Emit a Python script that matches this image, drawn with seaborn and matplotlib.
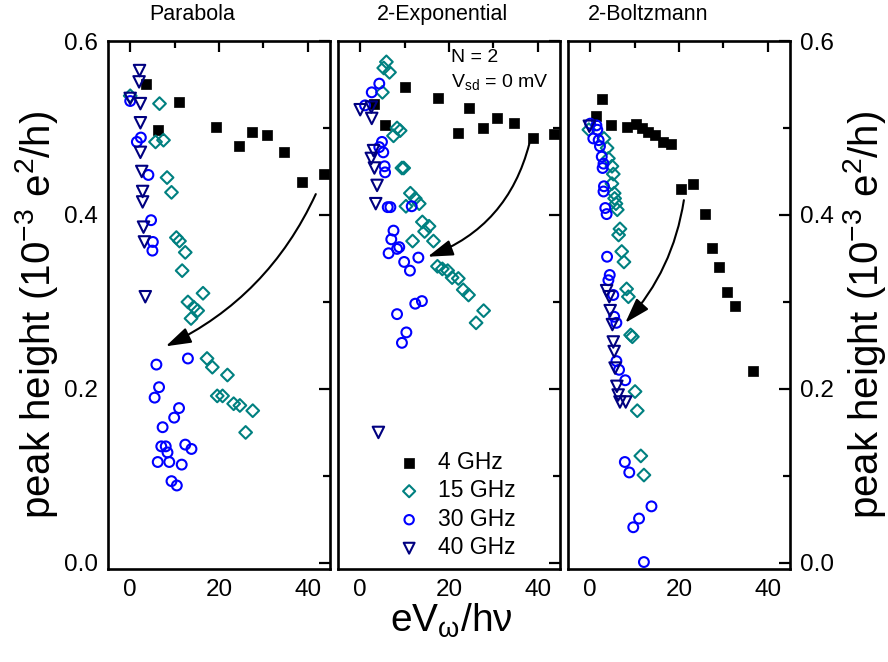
import numpy as np
import pandas as pd
import matplotlib
matplotlib.use("Agg")
import matplotlib.pyplot as plt
import seaborn as sns

# ---------------- data: peak height vs. eV_w/hv ----------------
freq_labels = ["4 GHz", "15 GHz", "30 GHz", "40 GHz"]
panel_titles = ["Parabola", "2-Exponential", "2-Boltzmann"]

# Parabola
para_4_x = [3.6, 6.2, 11.0, 19.4, 24.6, 27.5, 30.9, 34.6, 38.8, 43.6]
para_4_y = [0.551, 0.498, 0.530, 0.501, 0.479, 0.495, 0.492, 0.472, 0.438, 0.447]
para_15_x = [0.0, 6.6, 5.7, 7.5, 8.3, 9.3, 10.4, 11.1, 12.4, 11.7, 16.4, 13.0,
             14.3, 15.2, 13.7, 17.3, 18.5, 21.9, 19.6, 20.8, 23.3, 24.7, 27.6, 26.0]
para_15_y = [0.537, 0.528, 0.484, 0.486, 0.443, 0.426, 0.374, 0.370, 0.357, 0.336,
             0.310, 0.300, 0.294, 0.290, 0.281, 0.235, 0.225, 0.216, 0.192, 0.192,
             0.183, 0.181, 0.175, 0.150]
para_30_x = [0.0, 1.5, 2.4, 4.1, 4.7, 5.1, 5.0, 5.9, 13.0, 6.5, 5.5, 11.0, 9.9,
             7.3, 7.0, 8.0, 8.4, 12.4, 13.8, 6.2, 8.8, 11.6, 9.3, 10.5]
para_30_y = [0.531, 0.484, 0.489, 0.446, 0.394, 0.369, 0.359, 0.228, 0.235, 0.202,
             0.190, 0.178, 0.167, 0.156, 0.134, 0.134, 0.127, 0.136, 0.131, 0.116,
             0.116, 0.113, 0.094, 0.089]
para_40_x = [2.1, 2.0, 0.0, 2.3, 2.3, 2.3, 2.6, 2.8, 2.8, 3.0, 3.2, 3.4]
para_40_y = [0.566, 0.553, 0.534, 0.528, 0.506, 0.472, 0.450, 0.427, 0.415, 0.386,
             0.369, 0.306]

# 2-Exponential
expo_4_x = [3.2, 5.6, 10.0, 17.5, 22.0, 24.6, 27.6, 30.9, 34.6, 39.0, 43.7]
expo_4_y = [0.528, 0.504, 0.547, 0.534, 0.494, 0.523, 0.500, 0.512, 0.506, 0.489, 0.493]
expo_15_x = [5.9, 5.3, 6.6, 5.0, 8.3, 9.0, 7.5, 9.4, 9.8, 11.3, 12.4, 10.3, 13.3,
             14.0, 15.5, 14.5, 11.8, 16.5, 17.4, 18.5, 19.7, 20.7, 22.1, 23.2, 24.4,
             27.8, 26.1]
expo_15_y = [0.576, 0.569, 0.564, 0.541, 0.500, 0.497, 0.491, 0.454, 0.454, 0.425,
             0.419, 0.410, 0.413, 0.392, 0.387, 0.381, 0.370, 0.370, 0.341, 0.338,
             0.336, 0.328, 0.327, 0.314, 0.308, 0.290, 0.276]
expo_30_x = [4.3, 2.6, 1.1, 4.9, 4.3, 5.2, 5.5, 5.6, 6.2, 6.8, 11.6, 7.5, 7.0, 8.8,
             8.3, 6.4, 13.1, 9.9, 11.2, 12.4, 13.9, 8.3, 10.4, 9.4]
expo_30_y = [0.551, 0.541, 0.526, 0.484, 0.478, 0.472, 0.456, 0.449, 0.409, 0.409,
             0.410, 0.382, 0.372, 0.363, 0.361, 0.356, 0.351, 0.346, 0.336, 0.298,
             0.301, 0.286, 0.265, 0.253]
expo_40_x = [0.0, 2.5, 2.6, 3.0, 2.5, 3.2, 3.8, 3.5, 4.1]
expo_40_y = [0.521, 0.524, 0.511, 0.474, 0.465, 0.454, 0.434, 0.413, 0.150]

# 2-Boltzmann
boltz_4_x = [1.4, 2.6, 4.6, 8.2, 10.3, 11.6, 13.1, 14.5, 16.4, 18.3, 20.5, 23.1,
             25.8, 27.4, 28.9, 30.8, 32.6, 36.6]
boltz_4_y = [0.514, 0.533, 0.503, 0.501, 0.505, 0.500, 0.495, 0.492, 0.484, 0.482,
             0.430, 0.436, 0.401, 0.362, 0.340, 0.311, 0.295, 0.221]
boltz_15_x = [-0.3, 3.1, 3.8, 4.1, 4.9, 5.2, 4.9, 5.4, 5.5, 5.8, 6.1, 6.7, 6.4, 7.1,
              7.6, 8.2, 8.6, 9.1, 9.5, 10.1, 10.6, 11.4, 12.1]
boltz_15_y = [0.498, 0.488, 0.477, 0.465, 0.456, 0.447, 0.436, 0.425, 0.419, 0.413,
              0.406, 0.384, 0.377, 0.358, 0.346, 0.315, 0.306, 0.262, 0.260, 0.197,
              0.175, 0.123, 0.101]
boltz_30_x = [0.0, 1.4, 1.6, 0.7, 1.9, 2.2, 2.6, 3.0, 2.8, 3.1, 3.0, 3.4, 3.7, 3.8,
              4.4, 4.1, 5.2, 5.4, 5.9, 5.9, 6.5, 7.9, 7.8, 8.8, 13.8, 11.0, 9.7, 12.1]
boltz_30_y = [0.505, 0.503, 0.498, 0.488, 0.486, 0.479, 0.467, 0.459, 0.454, 0.433,
              0.427, 0.408, 0.401, 0.352, 0.331, 0.325, 0.308, 0.283, 0.276, 0.232,
              0.222, 0.210, 0.116, 0.104, 0.065, 0.051, 0.041, 0.001]
boltz_40_x = [-0.2, 3.7, 4.3, 4.5, 5.0, 5.2, 5.4, 5.6, 6.0, 6.3, 6.7, 8.0]
boltz_40_y = [0.502, 0.313, 0.306, 0.290, 0.274, 0.254, 0.243, 0.224, 0.203, 0.193,
              0.185, 0.185]

# trend arrows (start -> tip) in data units, and their curvature
arrow_start = [(41.8, 0.424), (38.1, 0.482), (21.1, 0.417)]
arrow_tip = [(8.0, 0.249), (15.2, 0.352), (7.9, 0.276)]
arrow_rad = [-0.18, -0.26, -0.15]

panels = [
    [(para_4_x, para_4_y), (para_15_x, para_15_y), (para_30_x, para_30_y), (para_40_x, para_40_y)],
    [(expo_4_x, expo_4_y), (expo_15_x, expo_15_y), (expo_30_x, expo_30_y), (expo_40_x, expo_40_y)],
    [(boltz_4_x, boltz_4_y), (boltz_15_x, boltz_15_y), (boltz_30_x, boltz_30_y), (boltz_40_x, boltz_40_y)],
]

# marker style for each frequency
series_style = {
    "4 GHz":  dict(marker="s", color="#000000", filled=True,  s=50),
    "15 GHz": dict(marker="D", color="#008080", filled=False, s=42),
    "30 GHz": dict(marker="o", color="#0000FF", filled=False, s=50),
    "40 GHz": dict(marker="v", color="#000080", filled=False, s=68),
}

# ---------------- styling ----------------
sns.set_style("white")
plt.rcParams["font.family"] = ["Liberation Sans", "DejaVu Sans"]
plt.rcParams["mathtext.fontset"] = "custom"
plt.rcParams["mathtext.rm"] = "Liberation Sans"
plt.rcParams["mathtext.it"] = "Liberation Sans:italic"
plt.rcParams["mathtext.bf"] = "Liberation Sans:bold"
for key in ["text.color", "axes.labelcolor", "xtick.color", "ytick.color",
            "axes.edgecolor"]:
    plt.rcParams[key] = "black"

fig = plt.figure(figsize=(8.88, 6.62), dpi=100)

W, H = 888.0, 662.0
left_px = [108, 338, 568]
panel_w = 222
top_px, bottom_px = 41, 569

title_pos = [0.378, 0.47, 0.363]

axes = []
for i in range(3):
    ax = fig.add_axes([left_px[i] / W, 1 - bottom_px / H,
                       panel_w / W, (bottom_px - top_px) / H])
    axes.append(ax)

    for label, (xs, ys) in zip(freq_labels, panels[i]):
        st = series_style[label]
        df = pd.DataFrame({"x": xs, "y": ys})
        if st["filled"]:
            sns.scatterplot(data=df, x="x", y="y", ax=ax, marker=st["marker"],
                            color=st["color"], edgecolor=st["color"],
                            s=st["s"], linewidth=0.5, label=label, zorder=3)
        else:
            sns.scatterplot(data=df, x="x", y="y", ax=ax, marker=st["marker"],
                            color=st["color"], facecolor="none",
                            edgecolor=st["color"], s=st["s"], linewidth=1.5,
                            label=label, zorder=3)

    ax.annotate("", xy=arrow_tip[i], xytext=arrow_start[i],
                arrowprops=dict(arrowstyle="-|>,head_length=1.1,head_width=0.35",
                                connectionstyle=f"arc3,rad={arrow_rad[i]}",
                                color="black", lw=1.5, shrinkA=0, shrinkB=0,
                                mutation_scale=14),
                zorder=4)

    ax.set_xlim(-5, 45)
    ax.set_ylim(-0.007, 0.6)
    ax.set_xticks([0, 20, 40])
    ax.set_xticks([10, 30], minor=True)
    ax.set_yticks([0.0, 0.2, 0.4, 0.6])
    ax.set_yticks([0.1, 0.3, 0.5], minor=True)
    ax.set_xlabel("")
    ax.set_ylabel("")
    for sp in ax.spines.values():
        sp.set_linewidth(1.9)
        sp.set_color("black")
    ax.tick_params(which="both", direction="in", top=True, right=True,
                   width=1.6, colors="black")
    ax.tick_params(which="major", length=8, labelsize=17.5, pad=7)
    ax.tick_params(which="minor", length=5)
    ax.tick_params(axis="y", labelleft=(i == 0), labelright=(i == 2))
    ax.set_yticklabels(["0.0", "0.2", "0.4", "0.6"])

    ax.text(title_pos[i], 1.05, panel_titles[i], transform=ax.transAxes,
            ha="center", va="center", fontsize=15.5)

    leg = ax.get_legend()
    if leg is not None:
        leg.remove()

# legend in middle panel
handles, labels = axes[1].get_legend_handles_labels()
axes[1].legend(handles, labels, loc="upper left", bbox_to_anchor=(0.274, 0.224),
               frameon=False, fontsize=16.5, handlelength=0.9, handletextpad=0.8,
               labelspacing=0.24, borderpad=0, borderaxespad=0, markerscale=0.95)

axes[1].text(0.51, 0.968, "N = 2", transform=axes[1].transAxes,
             ha="left", va="center", fontsize=14)
axes[1].text(0.51, 0.922, r"V$_{\mathrm{sd}}$ = 0 mV", transform=axes[1].transAxes,
             ha="left", va="center", fontsize=14)

ylab = r"peak height (10$^{-3}$ e$^{2}$/h)"
fig.text(37 / W, 1 - 315 / H, ylab, rotation=90, ha="center", va="center", fontsize=29)
fig.text(864 / W, 1 - 315 / H, ylab, rotation=90, ha="center", va="center", fontsize=29)
fig.text(451 / W, 1 - 621 / H, r"eV$_{\mathrm{\omega}}$/h$\mathrm{\nu}$",
         ha="center", va="center", fontsize=28)

fig.savefig("out.png", dpi=100)
